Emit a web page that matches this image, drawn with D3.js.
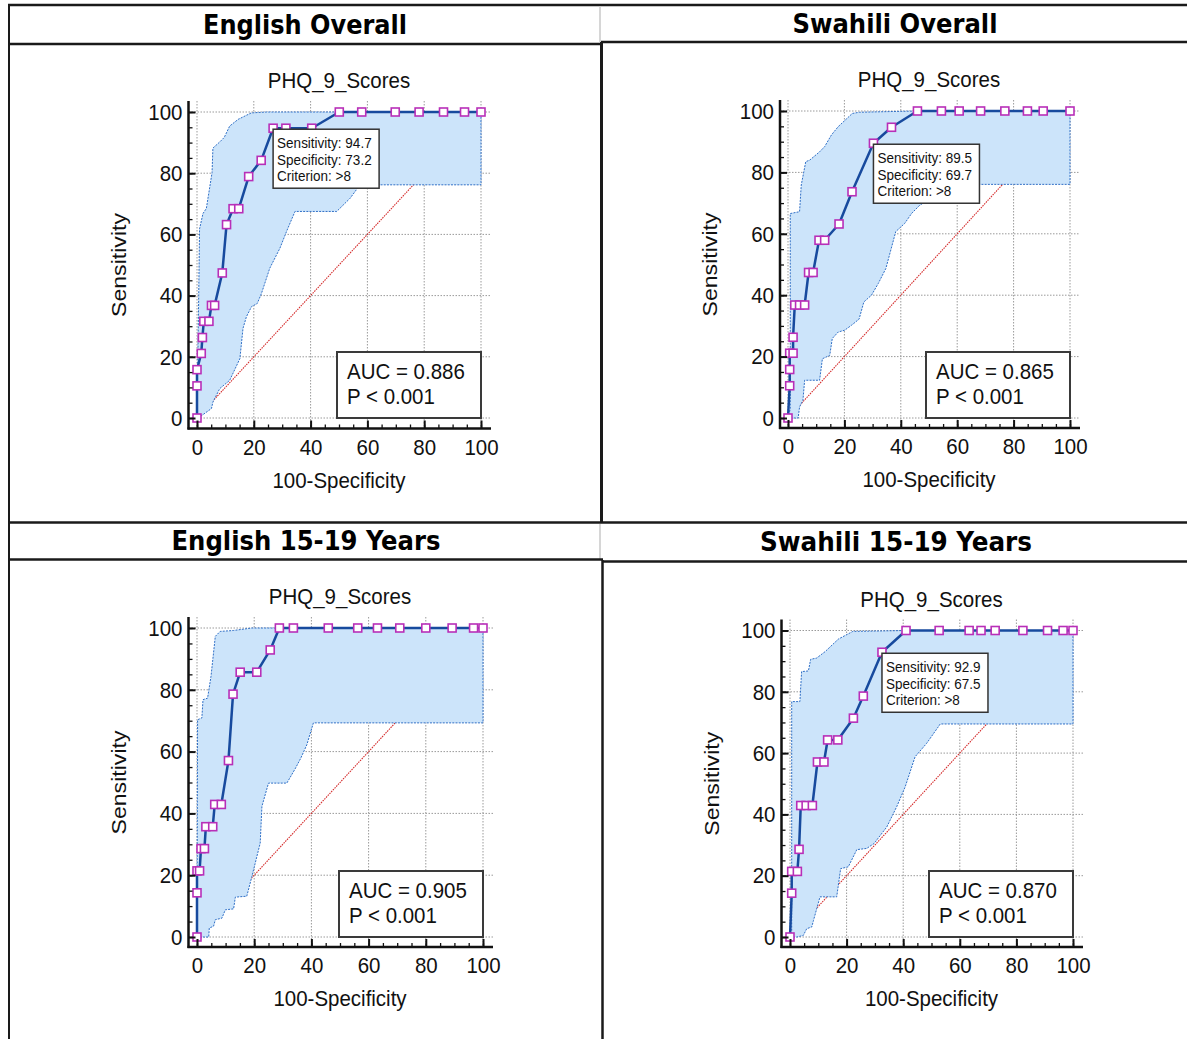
<!DOCTYPE html>
<html><head><meta charset="utf-8">
<script src="https://cdn.jsdelivr.net/npm/d3@7"></script>
<style>body{margin:0;background:#fff;} svg{display:block;}</style>
</head><body>
<svg id="c" width="1187" height="1039"></svg>
<script>
// ---------------- DATA ----------------
const panelTitles = ["English Overall", "Swahili Overall", "English 15-19 Years", "Swahili 15-19 Years"];
const plotTitle = "PHQ_9_Scores";
const xAxisTitle = "100-Specificity";
const yAxisTitle = "Sensitivity";
const majorTicks = [0, 20, 40, 60, 80, 100];
const minorTicks = [0, 5, 10, 15, 20, 25, 30, 35, 40, 45, 50, 55, 60, 65, 70, 75, 80, 85, 90, 95, 100];

// ROC curves: x = 100-Specificity, y = Sensitivity
const rocX1 = [0,0,0,1.5,1.9,2.4,4.2,5.1,6.2,8.9,10.4,12.7,14.7,18.2,22.6,26.8,31.3,40.4,50.1,58,69.8,78.2,86.8,94.2,100];
const rocY1 = [0,10.5,15.8,21.1,26.3,31.6,31.6,36.8,36.8,47.4,63.2,68.4,68.4,78.9,84.2,94.7,94.7,94.7,100,100,100,100,100,100,100];
const rocX2 = [0,0.6,0.6,0.6,1.8,1.8,2.4,4.1,5.9,7.3,8.9,11,13,18.1,22.7,30.3,36.7,45.9,54.4,60.7,68.3,76.9,84.9,90.5,100];
const rocY2 = [0,10.5,15.8,21.1,21.1,26.3,36.8,36.8,36.8,47.4,47.4,57.9,57.9,63.2,73.7,89.5,94.7,100,100,100,100,100,100,100,100];
const rocX3 = [0,0,0,0.9,1.4,2.6,3.1,5.5,6.2,8.5,11,12.6,15.1,20.9,25.6,28.8,33.7,45.9,56.2,63.1,70.9,80,89.2,96.7,100];
const rocY3 = [0,14.3,21.4,21.4,28.6,28.6,35.7,35.7,42.9,42.9,57.1,78.6,85.7,85.7,92.9,100,100,100,100,100,100,100,100,100,100];
const rocX4 = [0,0.6,0.6,2.6,3.2,3.8,5.7,7.9,9.7,12,13.3,16.9,22.4,25.9,32.5,41,52.7,63.3,67.5,72.5,82.3,91,96.5,100];
const rocY4 = [0,14.3,21.4,21.4,28.6,42.9,42.9,42.9,57.1,57.1,64.3,64.3,71.4,78.6,92.9,100,100,100,100,100,100,100,100,100];

// Confidence bands [x, y]
const ciUpper1 = [[0,0],[0.6,40],[0.9,61.8],[2.1,66.8],[3.3,68.5],[5.3,80.2],[5.6,88.2],[8,90.2],[9.6,91.7],[11.5,95.4],[14.5,97.6],[19.1,99.7],[24.5,100],[100,100]];
const ciLower1 = [[0,0],[0.9,0.3],[5.1,3.1],[5.6,5.2],[8,9.6],[11.5,12.3],[15.1,19.4],[16.2,29.3],[17.4,33.1],[19.2,36.4],[21.2,37.4],[22.7,40.7],[25.6,48.9],[29.2,55.5],[31.5,60.9],[34.5,67.5],[49.2,67.5],[53.9,71.8],[57.4,76.2],[100,76.2]];
const ciUpper2 = [[0,0],[0.8,3],[0.8,66.6],[4.1,67.2],[4.7,75.9],[6.3,83.5],[7.7,84],[11.2,86.7],[13,88.4],[15.4,92.2],[17.8,94.9],[22.8,99.2],[25.4,99.6],[45.6,100],[100,100]];
const ciLower2 = [[0,0],[3.6,0],[4.1,3.6],[5.3,5.8],[5.9,12.3],[11.2,12.3],[12.2,19.3],[14.8,20.4],[15.7,25.9],[17.8,28],[20.1,28.6],[22.5,30.2],[25.2,32.2],[26.9,37.8],[29.6,40],[32,43.8],[34.7,48.7],[38.2,60.7],[41.4,63.4],[43.8,66.6],[46.7,69.3],[52.7,72.6],[56.2,74.2],[58,76.1],[100,76.1]];
const ciUpper3 = [[0,0],[0.2,70.3],[1.7,70.9],[2.1,76.8],[3.7,77.3],[4.9,84.4],[6.4,97.3],[8.1,98.9],[12.8,99.2],[19.2,100],[100,100]];
const ciLower3 = [[0,0],[4.1,0],[4.3,2.9],[5.8,3.5],[6.4,5.6],[8.7,6.1],[9.9,8.8],[12.8,9.1],[13.4,12.9],[17.4,13.2],[19.2,19.6],[22.1,30.4],[22.7,42.3],[25,49.8],[31.4,49.8],[34.3,54.4],[36.3,57.9],[38.4,62.2],[40.7,69.3],[100,69.3]];
const ciUpper4 = [[0,0],[0.6,2.2],[0.6,76.8],[3.5,76.8],[4.1,86.6],[6.5,86.8],[7.3,90.6],[9.4,91],[12.4,93.1],[17.1,97.2],[22.2,99.7],[41,100],[100,100]];
const ciLower4 = [[0,0],[2.4,0],[4.7,0.5],[5.9,2.7],[7.7,3.3],[8.3,5.4],[10.6,13.1],[16.5,13.1],[17.9,22.3],[20.6,22.9],[23.6,28.5],[27.1,28.9],[29.7,30.5],[34.2,35.9],[37.7,42.5],[40.7,49],[44.2,58.8],[48.3,63.2],[53.1,69.5],[100,69.5]];

const aucValues = ["0.886", "0.865", "0.905", "0.870"];
const pValues = ["< 0.001", "< 0.001", "< 0.001", "< 0.001"];
// criterion point: [sensitivity, specificity, criterion] (null = none shown)
const criterionInfo = [[94.7, 73.2, ">8"], [89.5, 69.7, ">8"], null, [92.9, 67.5, ">8"]];

// ---------------- LAYOUT ----------------
const layouts = [
  {cx0: 9, cx1: 601, hy0: 5, hy1: 44, x0: 197, x1: 481, yTop: 112, yBot: 418, axX: 188.5, axY: 428.5},
  {cx0: 601, cx1: 1189, hy0: 5, hy1: 42, x0: 788, x1: 1070, yTop: 111, yBot: 418, axX: 780, axY: 428},
  {cx0: 9, cx1: 603, hy0: 522, hy1: 560, x0: 197, x1: 483, yTop: 628, yBot: 937, axX: 188.5, axY: 947},
  {cx0: 603, cx1: 1189, hy0: 522, hy1: 562, x0: 790, x1: 1073, yTop: 630.5, yBot: 937, axX: 781.5, axY: 947}
];
const headerWidths = [204, 205, 269, 272];
const SY = 1.1; // vertical stretch of text glyphs

const rocXs = [rocX1, rocX2, rocX3, rocX4];
const rocYs = [rocY1, rocY2, rocY3, rocY4];
const ciUppers = [ciUpper1, ciUpper2, ciUpper3, ciUpper4];
const ciLowers = [ciLower1, ciLower2, ciLower3, ciLower4];

const FONT = "'Liberation Sans', Arial, sans-serif";
const svg = d3.select("#c");

function stretchText(sel, sy) {
  sel.each(function () {
    const t = d3.select(this);
    const xx = +t.attr("x") || 0, yy = +t.attr("y") || 0;
    const prev = t.attr("transform") || "";
    t.attr("x", 0).attr("y", 0).attr("transform", `${prev} translate(${xx},${yy}) scale(1,${sy})`);
  });
}

// ---------------- TABLE ----------------
const T = svg.append("g").attr("stroke", "#1a1a1a").attr("fill", "none");
T.append("line").attr("x1", 8).attr("x2", 1187).attr("y1", 5).attr("y2", 5).attr("stroke-width", 2.5);
T.append("line").attr("x1", 9).attr("x2", 9).attr("y1", 4).attr("y2", 1039).attr("stroke-width", 2);
T.append("line").attr("x1", 9).attr("x2", 601).attr("y1", 44).attr("y2", 44).attr("stroke-width", 2.5);
T.append("line").attr("x1", 601).attr("x2", 1187).attr("y1", 42).attr("y2", 42).attr("stroke-width", 2.5);
T.append("line").attr("x1", 600).attr("x2", 600).attr("y1", 6).attr("y2", 42).attr("stroke", "#c8c8c8").attr("stroke-width", 1.5);
T.append("line").attr("x1", 601.5).attr("x2", 601.5).attr("y1", 42).attr("y2", 523).attr("stroke-width", 3);
T.append("line").attr("x1", 9).attr("x2", 1187).attr("y1", 522.5).attr("y2", 522.5).attr("stroke-width", 2.5);
T.append("line").attr("x1", 600).attr("x2", 600).attr("y1", 524).attr("y2", 559).attr("stroke", "#c8c8c8").attr("stroke-width", 1.5);
T.append("line").attr("x1", 9).attr("x2", 603).attr("y1", 559.5).attr("y2", 559.5).attr("stroke-width", 2.5);
T.append("line").attr("x1", 602).attr("x2", 1187).attr("y1", 561.5).attr("y2", 561.5).attr("stroke-width", 2.5);
T.append("line").attr("x1", 602.5).attr("x2", 602.5).attr("y1", 560).attr("y2", 1039).attr("stroke-width", 2.5);

// ---------------- PANELS ----------------
layouts.forEach((L, i) => {
  const g = svg.append("g");
  // header
  const ht = g.append("text")
    .attr("x", (L.cx0 + L.cx1) / 2).attr("y", (L.hy0 + L.hy1) / 2 + 9)
    .attr("text-anchor", "middle")
    .attr("font-family", "'DejaVu Sans Condensed', 'DejaVu Sans', sans-serif")
    .attr("font-stretch", "condensed").attr("font-weight", "bold").attr("font-size", 24)
    .attr("textLength", headerWidths[i]).attr("lengthAdjust", "spacingAndGlyphs")
    .attr("fill", "#000").text(panelTitles[i]);
  stretchText(ht, 1.12);

  const x = d3.scaleLinear().domain([0, 100]).range([L.x0, L.x1]);
  const y = d3.scaleLinear().domain([0, 100]).range([L.yBot, L.yTop]);
  const yTopAxis = L.yTop - 11, xRightAxis = L.x1 + 10;

  // grid
  const grid = g.append("g").attr("stroke", "#9a9a9a").attr("stroke-width", 1).attr("stroke-dasharray", "1.5,1.5");
  majorTicks.forEach(v => {
    grid.append("line").attr("x1", x(v)).attr("x2", x(v)).attr("y1", yTopAxis).attr("y2", L.axY);
    grid.append("line").attr("x1", L.axX).attr("x2", xRightAxis).attr("y1", y(v)).attr("y2", y(v));
  });

  // diagonal
  g.append("line").attr("x1", x(0)).attr("y1", y(0)).attr("x2", x(100)).attr("y2", y(100))
    .attr("stroke", "#d42a2a").attr("stroke-width", 1.1).attr("stroke-dasharray", "1.5,1");

  // confidence band
  const up = ciUppers[i], lo = ciLowers[i];
  const poly = up.concat(lo.slice().reverse());
  g.append("path")
    .attr("d", d3.line().x(d => x(d[0])).y(d => y(d[1]))(poly) + "Z")
    .attr("fill", "#cce4fa").attr("stroke", "#2f6fc6").attr("stroke-width", 1)
    .attr("stroke-dasharray", "2,1.2");

  // ROC curve
  const pts = rocXs[i].map((v, k) => [v, rocYs[i][k]]);
  g.append("path")
    .attr("d", d3.line().x(d => x(d[0])).y(d => y(d[1]))(pts))
    .attr("fill", "none").attr("stroke", "#174a9e").attr("stroke-width", 2.5).attr("stroke-linejoin", "round");
  g.selectAll("rect.mk").data(pts).enter().append("rect").attr("class", "mk")
    .attr("x", d => x(d[0]) - 4).attr("y", d => y(d[1]) - 4).attr("width", 8).attr("height", 8)
    .attr("fill", "#fff").attr("stroke", "#b82fb8").attr("stroke-width", 1.6);

  // criterion tooltip
  const ci = criterionInfo[i];
  if (ci) {
    const bx = x(100 - ci[1]), by = y(ci[0]);
    const tb = g.append("g").attr("transform", `translate(${bx},${by + 1})`);
    tb.append("rect").attr("width", 106).attr("height", 59).attr("fill", "#fff")
      .attr("stroke", "#333").attr("stroke-width", 1.5);
    const lines = [`Sensitivity: ${ci[0]}`, `Specificity: ${ci[1]}`, `Criterion: ${ci[2]}`];
    lines.forEach((t, k) => {
      const tt = tb.append("text").attr("x", 4).attr("y", 19 + k * 16.5)
        .attr("font-family", FONT).attr("font-size", 13.5).attr("fill", "#111").text(t);
      stretchText(tt, SY);
    });
  }

  // AUC box
  const ab = g.append("g").attr("transform", `translate(${x(100) - 144},${y(0) - 66})`);
  ab.append("rect").attr("width", 144).attr("height", 66).attr("fill", "#fff")
    .attr("stroke", "#3a3a3a").attr("stroke-width", 2);
  stretchText(ab.append("text").attr("x", 10).attr("y", 27).attr("font-family", FONT).attr("font-size", 20.5)
    .attr("fill", "#111").text(`AUC = ${aucValues[i]}`), SY);
  stretchText(ab.append("text").attr("x", 10).attr("y", 52).attr("font-family", FONT).attr("font-size", 20.5)
    .attr("fill", "#111").text(`P ${pValues[i]}`), SY);

  // axes
  const xMinor = d3.axisBottom(x).tickValues(minorTicks).tickSizeInner(-4).tickSizeOuter(0).tickFormat("");
  const xMajor = d3.axisBottom(x).tickValues(majorTicks).tickSizeInner(-8).tickSizeOuter(0).tickPadding(10).tickFormat(d3.format("d"));
  const yMinor = d3.axisLeft(y).tickValues(minorTicks).tickSizeInner(-4).tickSizeOuter(0).tickFormat("");
  const yMajor = d3.axisLeft(y).tickValues(majorTicks).tickSizeInner(-7).tickSizeOuter(0).tickPadding(6).tickFormat(d3.format("d"));

  [xMinor, xMajor].forEach((ax, k) => {
    const a = g.append("g").attr("transform", `translate(0,${L.axY})`).call(ax);
    a.select(".domain").remove();
    a.selectAll("line").attr("stroke", "#111").attr("stroke-width", k ? 2 : 1.3);
    const tx = a.selectAll("text").attr("font-family", FONT).attr("font-size", 20.5).attr("fill", "#111");
    if (k) stretchText(tx, SY);
  });
  [yMinor, yMajor].forEach((ax, k) => {
    const a = g.append("g").attr("transform", `translate(${L.axX},0)`).call(ax);
    a.select(".domain").remove();
    a.selectAll("line").attr("stroke", "#111").attr("stroke-width", k ? 2 : 1.3);
    const tx = a.selectAll("text").attr("font-family", FONT).attr("font-size", 20.5).attr("fill", "#111");
    if (k) stretchText(tx, SY);
  });
  g.append("line").attr("x1", L.axX - 1).attr("x2", xRightAxis).attr("y1", L.axY).attr("y2", L.axY)
    .attr("stroke", "#111").attr("stroke-width", 2.5);
  g.append("line").attr("x1", L.axX).attr("x2", L.axX).attr("y1", yTopAxis).attr("y2", L.axY + 1)
    .attr("stroke", "#111").attr("stroke-width", 2.5);

  // titles
  stretchText(g.append("text").attr("x", (L.x0 + L.x1) / 2).attr("y", L.yTop - 24).attr("text-anchor", "middle")
    .attr("font-family", FONT).attr("font-size", 20.5).attr("fill", "#111").text(plotTitle), SY);
  stretchText(g.append("text").attr("x", (L.x0 + L.x1) / 2).attr("y", L.axY + 59).attr("text-anchor", "middle")
    .attr("font-family", FONT).attr("font-size", 20.5).attr("fill", "#111").text(xAxisTitle), SY);
  g.append("text")
    .attr("transform", `translate(${L.x0 - 71},${(L.yTop + L.yBot) / 2}) rotate(-90)`)
    .attr("text-anchor", "middle").attr("font-family", FONT).attr("font-size", 20.5)
    .attr("textLength", 104).attr("lengthAdjust", "spacingAndGlyphs")
    .attr("fill", "#111").text(yAxisTitle);
});
</script>
</body></html>
